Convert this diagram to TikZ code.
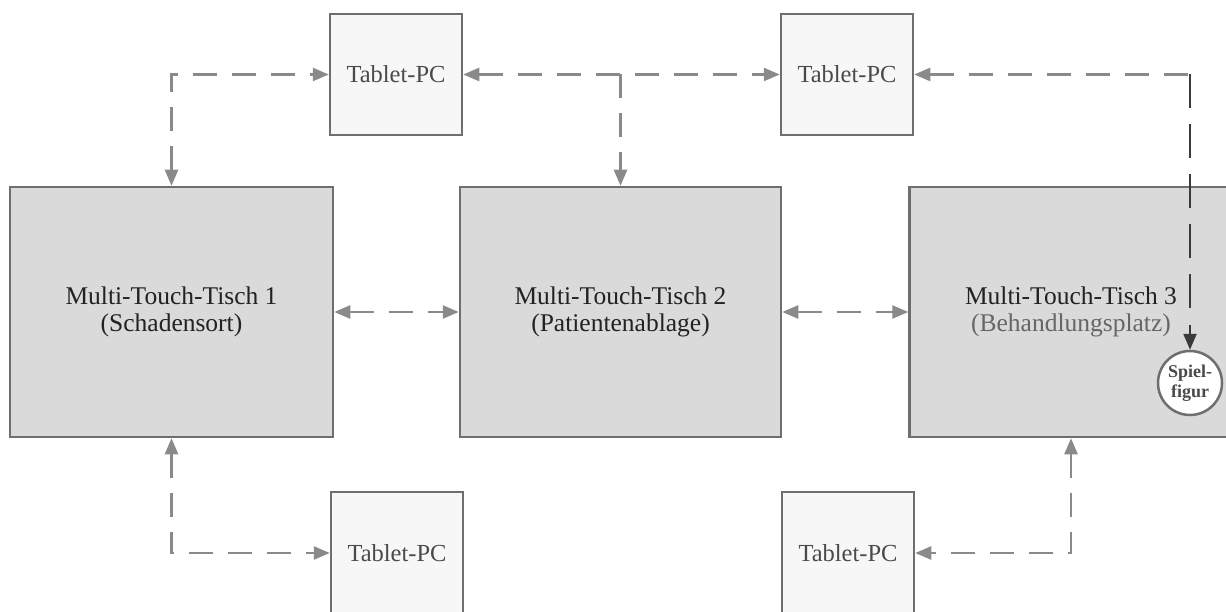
\documentclass[tikz,border=0pt]{standalone}
\usepackage{fontspec}
\setmainfont{Liberation Serif}
\usetikzlibrary{arrows.meta}
\definecolor{edge}{HTML}{6E6E6E}
\definecolor{boxfill}{HTML}{DADADA}
\definecolor{tabfill}{HTML}{F7F7F7}
\definecolor{conn}{HTML}{8A8A8A}
\definecolor{darkconn}{HTML}{3A3A3A}
\definecolor{txt}{HTML}{222222}
\definecolor{txtgray}{HTML}{4A4A4A}
\definecolor{txtlight}{HTML}{666666}
\begin{document}
\begin{tikzpicture}[x=1pt,y=-1pt,
  >={Triangle[length=16pt,width=13pt]},
  tablebox/.style={draw=edge, line width=2.5pt, fill=boxfill, minimum width=323pt, minimum height=250pt, inner sep=0pt, align=center, font=\fontsize{25.5}{27}\selectfont, text=txt},
  tabletbox/.style={draw=edge, line width=2.5pt, fill=tabfill, minimum width=132pt, minimum height=121pt, inner sep=0pt, font=\fontsize{24.5}{26}\selectfont, text=txtgray},
  token/.style={circle, draw=edge, line width=2.5pt, fill=white, minimum size=64pt, inner sep=0pt, align=center, font=\fontsize{18}{20}\selectfont\bfseries, text=txtgray},
  link/.style={draw=conn, line width=2.5pt, dash pattern=on 24pt off 15pt},
  darklink/.style={draw=darkconn, line width=2.5pt, dash pattern=on 34pt off 16pt}
]
\useasboundingbox (0,0) rectangle (1226,612);
\clip (0,0) rectangle (1226,612);

\node[tabletbox] (t1) at (396,74.5) {Tablet-PC};
\node[tabletbox] (t2) at (847,74.5) {Tablet-PC};
\node[tablebox] (b1) at (171.5,312) {Multi-Touch-Tisch 1\\(Schadensort)};
\node[tablebox, minimum width=321pt] (b2) at (620.5,312) {Multi-Touch-Tisch 2\\(Patientenablage)};
\node[tablebox] (b3) at (1071,312) {Multi-Touch-Tisch 3\\\textcolor{txtlight}{(Behandlungsplatz)}};
\node[tabletbox, minimum height=122pt] (bt1) at (397,553) {Tablet-PC};
\node[tabletbox, minimum height=122pt] (bt2) at (848,553) {Tablet-PC};

\coordinate (j) at (b2.north |- t1.east);
\coordinate (c) at (1190,74.5);

\draw[link,<->] (b1.north) |- (t1.west);
\draw[link,<->] (t1.east) -- (t2.west);
\draw[link,->] (j) -- (b2.north);
\draw[link,<->] (b1.east) -- (b2.west);
\draw[link,<->] (b2.east) -- (b3.west);
\draw[link,<->] (b1.south) |- (bt1.west);
\draw[link,<->] (b3.south) |- (bt2.east);

\node[token] (sp) at (1190,383) {Spiel-\\figur};
\draw[link,<-] (t2.east) -- (c);
\draw[darklink,->] (c) -- (sp.north);
\end{tikzpicture}
\end{document}
